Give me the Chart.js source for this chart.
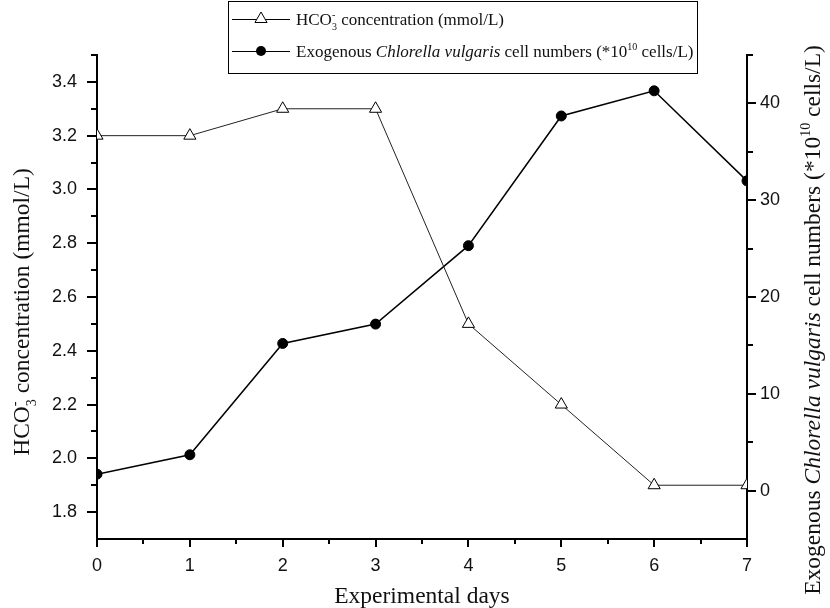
<!DOCTYPE html>
<html>
<head>
<meta charset="utf-8">
<script src="https://cdn.jsdelivr.net/npm/chart.js@4.4.1/dist/chart.umd.min.js"></script>
<style>
  html, body { margin: 0; padding: 0; background: #fff; }
  canvas { display: block; }
</style>
</head>
<body>
<canvas id="chart" width="830" height="608"></canvas>
<script>
// Experimental days (x axis)
const days = [0, 1, 2, 3, 4, 5, 6, 7];
// HCO3- concentration, mmol/L (left axis)
const hco3 = [3.2, 3.2, 3.3, 3.3, 2.5, 2.2, 1.9, 1.9];
// Exogenous Chlorella vulgaris cell numbers, *10^10 cells/L (right axis)
const cells = [1.7, 3.7, 15.2, 17.2, 25.3, 38.7, 41.3, 32.0];

// tick values
const xTicks = [0, 1, 2, 3, 4, 5, 6, 7];
const xMinor = [0.5, 1.5, 2.5, 3.5, 4.5, 5.5, 6.5];
const leftTicks = [1.8, 2.0, 2.2, 2.4, 2.6, 2.8, 3.0, 3.2, 3.4];
const leftMinor = [1.9, 2.1, 2.3, 2.5, 2.7, 2.9, 3.1, 3.3, 3.5];
const rightTicks = [0, 10, 20, 30, 40];
const rightMinor = [5, 15, 25, 35, 45];

const SERIF = '"Liberation Serif", "Times New Roman", serif';
const SANS = '"Liberation Sans", Arial, sans-serif';

// rich text pieces (sub/superscripts, italics)
const leftTitle = [{ t: 'HCO' }, { sub: '3', sup: '-' }, { t: ' concentration (mmol/L)' }];
const rightTitle = [
  { t: 'Exogenous ' }, { t: 'Chlorella vulgaris', it: true },
  { t: ' cell numbers (*10' }, { sup: '10' }, { t: ' cells/L)' }
];
const legendItems = [
  { parts: leftTitle, marker: 'triangle' },
  { parts: rightTitle, marker: 'circle' }
];

function partFont(p, size) {
  return (p.it ? 'italic ' : '') + size + 'px ' + SERIF;
}

function measureRich(ctx, parts, size) {
  let w = 0;
  parts.forEach(p => {
    if (p.t === undefined) {
      ctx.font = Math.round(size * 0.6) + 'px ' + SERIF;
      w += Math.max(ctx.measureText(p.sub || '').width, ctx.measureText(p.sup || '').width);
    } else {
      ctx.font = partFont(p, size);
      w += ctx.measureText(p.t).width;
    }
  });
  return w;
}

function drawRich(ctx, parts, x, y, size) {
  ctx.textAlign = 'left';
  ctx.textBaseline = 'alphabetic';
  parts.forEach(p => {
    if (p.t === undefined) {
      const s = Math.round(size * 0.6);
      ctx.font = s + 'px ' + SERIF;
      let w = 0;
      if (p.sub) {
        ctx.fillText(p.sub, x, y + size * 0.3);
        w = ctx.measureText(p.sub).width;
      }
      if (p.sup) {
        ctx.fillText(p.sup, x, y - size * 0.42);
        w = Math.max(w, ctx.measureText(p.sup).width);
      }
      x += w;
    } else {
      ctx.font = partFont(p, size);
      ctx.fillText(p.t, x, y);
      x += ctx.measureText(p.t).width;
    }
  });
}

function drawMarker(ctx, type, x, y) {
  ctx.beginPath();
  if (type === 'triangle') {
    const r = 7;
    ctx.moveTo(x, y - r);
    ctx.lineTo(x + r * 0.866, y + r / 2);
    ctx.lineTo(x - r * 0.866, y + r / 2);
    ctx.closePath();
    ctx.fillStyle = '#fff';
    ctx.fill();
    ctx.lineWidth = 1;
    ctx.stroke();
  } else {
    ctx.arc(x, y, 5, 0, Math.PI * 2);
    ctx.fillStyle = '#000';
    ctx.fill();
  }
}

// minor ticks on all three axes
const minorTicks = {
  id: 'minorTicks',
  afterDraw(chart) {
    const ctx = chart.ctx;
    const { x, yL, yR } = chart.scales;
    ctx.save();
    ctx.strokeStyle = '#000';
    ctx.lineWidth = 2;
    ctx.beginPath();
    xMinor.forEach(v => {
      const p = Math.round(x.getPixelForValue(v));
      ctx.moveTo(p, x.top);
      ctx.lineTo(p, x.top + 5);
    });
    leftMinor.forEach(v => {
      const p = Math.round(yL.getPixelForValue(v));
      ctx.moveTo(yL.right, p);
      ctx.lineTo(yL.right - 6, p);
    });
    rightMinor.forEach(v => {
      const p = Math.round(yR.getPixelForValue(v));
      ctx.moveTo(yR.left, p);
      ctx.lineTo(yR.left + 6, p);
    });
    ctx.stroke();
    ctx.restore();
  }
};

// axis titles and legend box
const richText = {
  id: 'richText',
  afterDraw(chart) {
    const ctx = chart.ctx;
    const area = chart.chartArea;
    const ts = 23.5;
    ctx.save();
    ctx.fillStyle = '#111';

    // x title
    ctx.font = ts + 'px ' + SERIF;
    ctx.textAlign = 'center';
    ctx.textBaseline = 'alphabetic';
    ctx.fillText('Experimental days', (area.left + area.right) / 2, 603);

    // left title
    let w = measureRich(ctx, leftTitle, ts);
    ctx.save();
    ctx.translate(29, 312);
    ctx.rotate(-Math.PI / 2);
    drawRich(ctx, leftTitle, -w / 2, 0, ts);
    ctx.restore();

    // right title
    w = measureRich(ctx, rightTitle, ts);
    ctx.save();
    ctx.translate(820, 320);
    ctx.rotate(-Math.PI / 2);
    drawRich(ctx, rightTitle, -w / 2, 0, ts);
    ctx.restore();

    // legend
    const bx = 228, by = 1, bw = 469, bh = 72;
    ctx.fillStyle = '#fff';
    ctx.fillRect(bx, by, bw, bh);
    ctx.strokeStyle = '#000';
    ctx.lineWidth = 1;
    ctx.strokeRect(bx + 0.5, by + 0.5, bw, bh);
    legendItems.forEach((item, i) => {
      const ly = 19 + i * 32;
      ctx.strokeStyle = '#000';
      ctx.lineWidth = 1;
      ctx.beginPath();
      ctx.moveTo(232, ly + 0.5);
      ctx.lineTo(290, ly + 0.5);
      ctx.stroke();
      drawMarker(ctx, item.marker, 261, ly);
      ctx.fillStyle = '#111';
      drawRich(ctx, item.parts, 296, ly + 6, 17);
    });
    ctx.restore();
  }
};

const axisStyle = {
  border: { display: true, color: '#000', width: 2 },
  grid: { display: true, drawOnChartArea: false, drawTicks: true, color: '#000', lineWidth: 2 }
};

new Chart(document.getElementById('chart'), {
  type: 'line',
  data: {
    datasets: [
      {
        label: 'HCO3- concentration (mmol/L)',
        data: days.map((d, i) => ({ x: d, y: hco3[i] })),
        yAxisID: 'yL',
        borderColor: '#222',
        borderWidth: 1,
        tension: 0,
        pointStyle: 'triangle',
        pointRadius: 7,
        pointBackgroundColor: '#fff',
        pointBorderColor: '#000',
        pointBorderWidth: 1
      },
      {
        label: 'Exogenous Chlorella vulgaris cell numbers',
        data: days.map((d, i) => ({ x: d, y: cells[i] })),
        yAxisID: 'yR',
        borderColor: '#000',
        borderWidth: 1.5,
        tension: 0,
        pointStyle: 'circle',
        pointRadius: 5,
        pointBackgroundColor: '#000',
        pointBorderColor: '#000',
        pointBorderWidth: 1
      }
    ]
  },
  options: {
    responsive: false,
    animation: false,
    devicePixelRatio: 1,
    events: [],
    layout: { padding: { top: 55, left: 0, right: 0, bottom: 0 } },
    plugins: { legend: { display: false }, tooltip: { enabled: false } },
    scales: {
      x: {
        type: 'linear',
        min: 0,
        max: 7,
        border: axisStyle.border,
        grid: { ...axisStyle.grid, tickLength: 8 },
        afterBuildTicks: s => { s.ticks = xTicks.map(v => ({ value: v })); },
        afterFit: s => { s.height = 69; },
        ticks: { font: { family: SANS, size: 18 }, color: '#111', padding: 8, maxRotation: 0 }
      },
      yL: {
        type: 'linear',
        position: 'left',
        min: 1.7,
        max: 3.5,
        border: axisStyle.border,
        grid: { ...axisStyle.grid, tickLength: 10 },
        afterBuildTicks: s => { s.ticks = leftTicks.map(v => ({ value: v })); },
        afterFit: s => { s.width = 97; },
        ticks: { font: { family: SANS, size: 18 }, color: '#111', padding: 10, callback: v => v.toFixed(1) }
      },
      yR: {
        type: 'linear',
        position: 'right',
        min: -5,
        max: 45,
        border: axisStyle.border,
        grid: { ...axisStyle.grid, tickLength: 9 },
        afterBuildTicks: s => { s.ticks = rightTicks.map(v => ({ value: v })); },
        afterFit: s => { s.width = 83; },
        ticks: { font: { family: SANS, size: 18 }, color: '#111', padding: 4 }
      }
    }
  },
  plugins: [minorTicks, richText]
});
</script>
</body>
</html>
